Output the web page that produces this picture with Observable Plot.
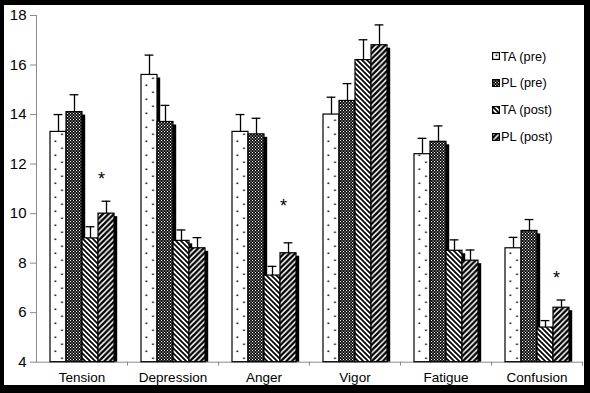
<!DOCTYPE html>
<html><head><meta charset="utf-8">
<script src="https://cdn.jsdelivr.net/npm/d3@7"></script>
<script src="https://cdn.jsdelivr.net/npm/@observablehq/plot@0.6"></script>
<style>
html,body{margin:0;padding:0;background:#000;width:590px;height:393px;overflow:hidden;font-family:"Liberation Sans",Arial,sans-serif}
#panel{position:absolute;left:4px;top:5px;width:580px;height:380px;background:#fff}
#chart{position:absolute;left:0;top:0}
#legend{position:absolute;left:488px;top:0;font-size:12.8px;color:#000}
.row{position:absolute;left:0;height:16px;display:flex;align-items:center;white-space:nowrap}
.row svg{margin-right:1px;display:block}
</style></head><body>
<svg width="0" height="0" style="position:absolute">
<defs>
<pattern id="pTApre" patternUnits="userSpaceOnUse" width="13.4" height="14">
  <rect width="13.4" height="14" fill="#fff"/>
  <rect x="3.6" y="2.5" width="1.6" height="1.6" fill="#000"/>
  <rect x="10.3" y="9.5" width="1.6" height="1.6" fill="#000"/>
</pattern>
<pattern id="pPLpre" patternUnits="userSpaceOnUse" width="3" height="3">
  <rect width="3" height="3" fill="#000"/>
  <rect x="0" y="0" width="1.1" height="1.1" fill="#fff"/>
  <rect x="1.5" y="1.5" width="1.1" height="1.1" fill="#fff"/>
</pattern>
<pattern id="pTApost" patternUnits="userSpaceOnUse" width="5" height="5">
  <rect width="5" height="5" fill="#fff"/>
  <path d="M-1,-1L6,6M-1,4L1,6M4,-1L6,1" stroke="#000" stroke-width="1.7"/>
</pattern>
<pattern id="pPLpost" patternUnits="userSpaceOnUse" width="5.5" height="5.5">
  <rect width="5.5" height="5.5" fill="#fff"/>
  <path d="M-1,6.5L6.5,-1M-1,1L1,-1M4.5,6.5L6.5,4.5" stroke="#000" stroke-width="2.4"/>
</pattern>
</defs></svg>
<div id="panel"><div id="chart"></div><div id="legend"></div></div>
<script>
const categories = ["Tension","Depression","Anger","Vigor","Fatigue","Confusion"];
const series = ["TA (pre)","PL (pre)","TA (post)","PL (post)"];
const taPre    = [13.3, 15.6, 13.3, 14.0, 12.4, 8.6];
const taPreSE  = [0.70, 0.80, 0.70, 0.70, 0.64, 0.44];
const plPre    = [14.1, 13.7, 13.2, 14.55, 12.9, 9.3];
const plPreSE  = [0.70, 0.67, 0.65, 0.70, 0.64, 0.46];
const taPost   = [9.0, 8.9, 7.5, 16.2, 8.5, 5.4];
const taPostSE = [0.47, 0.44, 0.37, 0.82, 0.44, 0.28];
const plPost   = [10.0, 8.6, 8.4, 16.8, 8.1, 6.2];
const plPostSE = [0.50, 0.43, 0.42, 0.82, 0.43, 0.31];
const starCats = ["Tension","Anger","Confusion"];
const starY    = [11.5, 10.4, 7.5];
const yTicks   = [4, 6, 8, 10, 12, 14, 16, 18];

const fills = {"TA (pre)":"url(#pTApre)","PL (pre)":"url(#pPLpre)","TA (post)":"url(#pTApost)","PL (post)":"url(#pPLpost)"};
const vals = [taPre, plPre, taPost, plPost];
const ses = [taPreSE, plPreSE, taPostSE, plPostSE];
const data = [];
categories.forEach((c, i) => series.forEach((s, j) => data.push({cat: c, series: s, value: vals[j][i], se: ses[j][i]})));
const stars = starCats.map((c, i) => ({cat: c, y: starY[i]}));

const W = 580, H = 380, ML = 32, MR = 2;
const step = (W - ML - MR) / categories.length;
const base = yTicks[0];
const axisGray = "#8a8a8a";

const plot = Plot.plot({
  width: W, height: H,
  marginLeft: ML, marginRight: MR, marginTop: 10, marginBottom: 23.3,
  style: {fontFamily: "Liberation Sans, Arial, sans-serif", background: "transparent", color: "#000"},
  fx: {domain: categories, padding: 0, label: null},
  x: {domain: series, paddingInner: 0, paddingOuter: 0.76, axis: null},
  y: {domain: [base, yTicks[yTicks.length - 1]], label: null},
  color: {type: "identity"},
  marks: [
    Plot.ruleY([base], {stroke: axisGray}),
    Plot.barY(data, {fx: "cat", x: "series", y1: base, y2: "value", fill: "#000", dx: 3.2, insetTop: 3}),
    Plot.barY(data, {fx: "cat", x: "series", y1: base, y2: "value", fill: d => fills[d.series], stroke: "#000", strokeWidth: 1.2}),
    Plot.ruleX(data, {fx: "cat", x: "series", y1: "value", y2: d => d.value + d.se, stroke: "#000", strokeWidth: 1.3}),
    Plot.tickY(data, {fx: "cat", x: "series", y: d => d.value + d.se, stroke: "#000", strokeWidth: 1.3, insetLeft: 3.6, insetRight: 3.6}),
    Plot.text(stars, {fx: "cat", x: () => "PL (post)", y: "y", text: () => "*", fontSize: 18, dx: -5, dy: 3}),
    Plot.axisY({ticks: yTicks, tickSize: 6, tickPadding: 4, fontSize: 15, stroke: axisGray, label: null}),
    Plot.frame({anchor: "left", facetAnchor: "left", stroke: axisGray}),
    Plot.axisFx({anchor: "bottom", tickSize: 0, tickPadding: 10, fontSize: 13.5, label: null}),
    Plot.axisFx({anchor: "bottom", tickSize: 4, fill: "none", stroke: axisGray, dx: step / 2, label: null})
  ]
});
document.getElementById("chart").appendChild(plot);

const legend = document.getElementById("legend");
const rowTops = [43, 69.7, 96.7, 123.7];
series.forEach((s, j) => {
  const row = document.createElement("div");
  row.className = "row";
  row.style.top = rowTops[j] + "px";
  row.innerHTML = `<svg width="8" height="8"><rect x="0.6" y="0.6" width="6.8" height="6.8" fill="${fills[s]}" stroke="#000" stroke-width="1.2"/></svg><span>${s}</span>`;
  legend.appendChild(row);
});
</script>
</body></html>
